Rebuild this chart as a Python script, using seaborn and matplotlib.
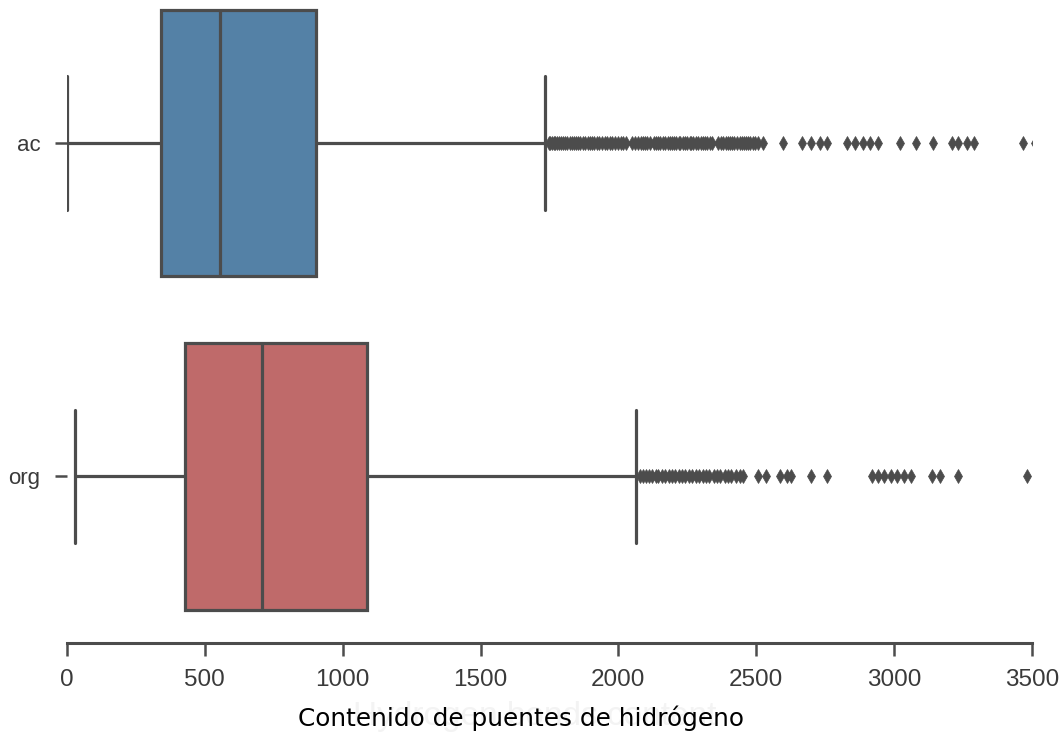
import numpy as np
import pandas as pd
import matplotlib
matplotlib.use("Agg")
import matplotlib.pyplot as plt
import seaborn as sns

# Categories and five-number summaries (lower whisker, Q1, median, Q3, upper whisker)
categories = ["ac", "org"]
whisker_low = [0, 29]
q1 = [341, 428]
median = [555, 707]
q3 = [903, 1088]
whisker_high = [1734, 2065]

# Outlying observations beyond the upper whisker
outliers_ac = [
    1748, 1752, 1758, 1765, 1771, 1778, 1785, 1792, 1800, 1808, 1815, 1823,
    1830, 1838, 1846, 1855, 1862, 1870, 1879, 1888, 1896, 1905, 1913, 1922,
    1931, 1940, 1950, 1960, 1969, 1978, 1988, 1997, 2008, 2018, 2028, 2048,
    2060, 2072, 2082, 2090, 2098, 2105, 2116, 2128, 2137, 2145, 2152, 2160,
    2170, 2178, 2187, 2195, 2203, 2210, 2218, 2225, 2234, 2242, 2250, 2258,
    2265, 2272, 2281, 2290, 2298, 2305, 2314, 2322, 2331, 2340, 2362, 2372,
    2381, 2390, 2398, 2405, 2412, 2420, 2430, 2440, 2448, 2455, 2462, 2470,
    2479, 2488, 2496, 2505, 2524, 2597, 2664, 2700, 2730, 2755, 2828, 2858,
    2888, 2912, 2942, 3021, 3080, 3141, 3210, 3230, 3266, 3290, 3466, 3510,
]
outliers_org = [
    2080, 2090, 2100, 2112, 2122, 2135, 2145, 2158, 2170, 2182, 2195, 2205,
    2218, 2230, 2242, 2255, 2268, 2280, 2292, 2305, 2318, 2330, 2345, 2358,
    2370, 2385, 2398, 2410, 2425, 2440, 2452, 2507, 2537, 2586, 2610, 2625,
    2700, 2755, 2918, 2940, 2965, 2990, 3012, 3035, 3060, 3136, 3166, 3233,
    3483,
]
outliers = [outliers_ac, outliers_org]

xticks = [0, 500, 1000, 1500, 2000, 2500, 3000, 3500]
xlabel = "Contenido de puentes de hidrógeno"
ghost_label = "Hydrogen bonds content"
palette = ["steelblue", "indianred"]

# Build a sample per group whose quartiles and whiskers equal the summaries above
block = 200
rows = []
for i, cat in enumerate(categories):
    vals = ([whisker_low[i]] + [q1[i]] * block + [median[i]] * block
            + [q3[i]] * block + [whisker_high[i]] + outliers[i])
    rows += [(cat, v) for v in vals]
df = pd.DataFrame(rows, columns=["grupo", "valor"])

sns.set_theme(style="ticks")
plt.rcParams["font.family"] = ["Liberation Sans", "DejaVu Sans"]

fig = plt.figure(figsize=(10.64, 7.37), dpi=100)
ax = fig.add_axes([67 / 1064, (737 - 643) / 737, (1032 - 67) / 1064, (643 + 23.5) / 737])

line_col = "#4c4c4c"
sns.boxplot(
    data=df, x="valor", y="grupo", hue="grupo", order=categories,
    hue_order=categories, palette=palette, legend=False, saturation=0.75,
    width=0.8, whis=1.5, linecolor=line_col, linewidth=2.3, ax=ax,
    flierprops=dict(marker="d", markersize=7, markerfacecolor=line_col,
                    markeredgecolor=line_col, markeredgewidth=0.5),
)

ax.set_xlim(0, 3500)
ax.set_ylim(1.5, -0.5)
ax.set_xticks(xticks)
ax.set_xticklabels([str(t) for t in xticks])
ax.set_ylabel("")
ax.set_xlabel("")

sns.despine(ax=ax, left=True)
ax.spines["bottom"].set_color(line_col)
ax.spines["bottom"].set_linewidth(2.2)
ax.tick_params(axis="both", colors=line_col, length=9, width=1.8,
               labelcolor="#3a3a3a", pad=10)
ax.tick_params(axis="x", labelsize=17.5)
ax.tick_params(axis="y", labelsize=16)

# Faint background caption and the axis title below the ticks
fig.text(535 / 1064, 1 - 716 / 737, ghost_label, ha="center", va="center",
         fontsize=24, color="#f3f3f3", family=["Liberation Sans"], zorder=0)
fig.text(521 / 1064, 1 - 718 / 737, xlabel, ha="center", va="center",
         fontsize=17.8, color="black", family=["DejaVu Sans"], zorder=2)

fig.savefig("out.png", dpi=100)
